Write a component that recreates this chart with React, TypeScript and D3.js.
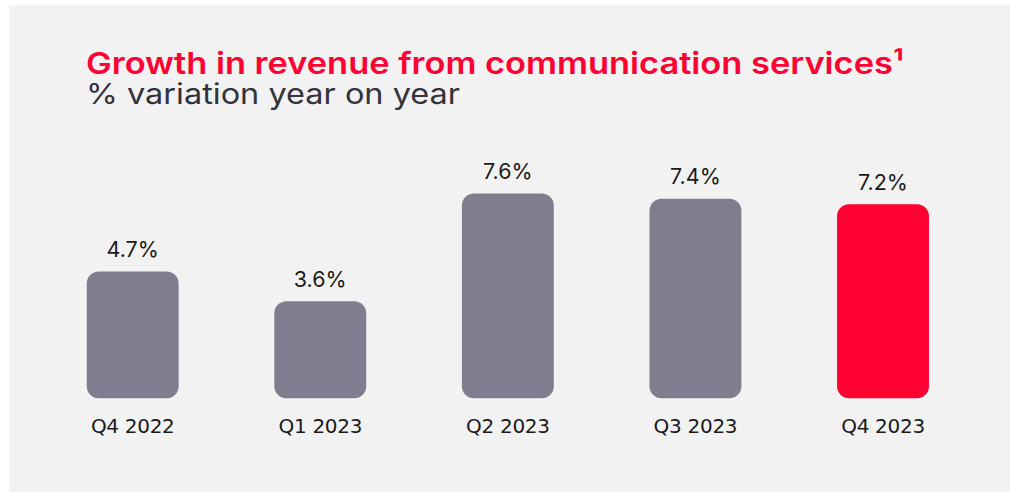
import React from "react";
import * as d3 from "d3";

const categories = ["Q4 2022", "Q1 2023", "Q2 2023", "Q3 2023", "Q4 2023"];
const values = [4.7, 3.6, 7.6, 7.4, 7.2];
const valueLabels = ["4.7%", "3.6%", "7.6%", "7.4%", "7.2%"];
const highlight = [false, false, false, false, true];
const title = "Growth in revenue from communication services¹";
const subtitle = "% variation year on year";

const W = 1010;
const H = 492;
const FONT = "Inter, 'DejaVu Sans', sans-serif";
const LABEL_FONT = "'DejaVu Sans', Inter, sans-serif";

export default function App() {
  const baseline = 398.3;
  const x = d3
    .scaleBand<string>()
    .domain(categories)
    .range([38.9, 976.8])
    .paddingInner(0.51)
    .paddingOuter(0.255);
  const y = d3.scaleLinear().domain([0, 7.6]).range([baseline, baseline - 204.9]);
  const bw = x.bandwidth();
  const r = 12;

  const barPath = (x0: number, top: number, w: number, bottom: number) => {
    const p = d3.path();
    const rr = Math.min(r, (bottom - top) / 2, w / 2);
    p.moveTo(x0 + rr, top);
    p.lineTo(x0 + w - rr, top);
    p.arcTo(x0 + w, top, x0 + w, top + rr, rr);
    p.lineTo(x0 + w, bottom - rr);
    p.arcTo(x0 + w, bottom, x0 + w - rr, bottom, rr);
    p.lineTo(x0 + rr, bottom);
    p.arcTo(x0, bottom, x0, bottom - rr, rr);
    p.lineTo(x0, top + rr);
    p.arcTo(x0, top, x0 + rr, top, rr);
    p.closePath();
    return p.toString();
  };

  return (
    <svg
      width={W}
      height={H}
      style={{ position: "absolute", left: 0, top: 0, display: "block" }}
    >
      <rect x={0} y={0} width={W} height={H} fill="#ffffff" />
      <rect x={9} y={5} width={W - 9} height={H - 5} fill="#f2f2f2" />
      <text
        x={86}
        y={74}
        fontFamily={FONT}
        fontSize={30.5}
        fontWeight={600}
        fill="#ff0033"
        textLength={818}
        lengthAdjust="spacingAndGlyphs"
      >
        {title}
      </text>
      <text
        x={86}
        y={104}
        fontFamily={FONT}
        fontSize={28.5}
        fontWeight={400}
        fill="#33333d"
        textLength={374}
        lengthAdjust="spacingAndGlyphs"
      >
        {subtitle}
      </text>
      {categories.map((c, i) => {
        const x0 = x(c)!;
        const top = y(values[i]);
        return (
          <g key={c}>
            <path
              d={barPath(x0, top, bw, baseline)}
              fill={highlight[i] ? "#ff0033" : "#7f7e8f"}
            />
            <text
              x={x0 + bw / 2}
              y={top - 14.5}
              textAnchor="middle"
              fontFamily={FONT}
              fontSize={21.5}
              fill="#1a1a1a"
            >
              {valueLabels[i]}
            </text>
            <text
              x={x0 + bw / 2}
              y={433.3}
              textAnchor="middle"
              fontFamily={LABEL_FONT}
              fontSize={20}
              letterSpacing={-0.3}
              fill="#1a1a1a"
            >
              {c}
            </text>
          </g>
        );
      })}
    </svg>
  );
}
